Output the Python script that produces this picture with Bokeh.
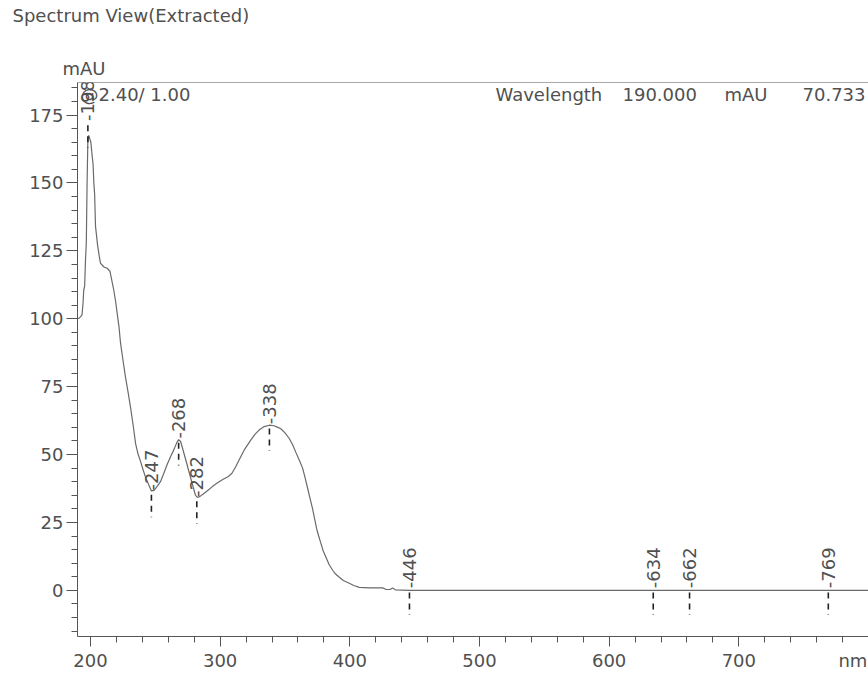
import numpy as np
from bokeh.plotting import figure
from bokeh.models import (Range1d, SingleIntervalTicker, FixedTicker, LinearAxis,
                          Label, Span, Title)
from bokeh.embed import file_html
from bokeh.resources import INLINE
from bokeh.core.properties import value

# ---- data ----
wavelength = [190, 191.5, 192.5, 193.5, 194.3, 194.8, 195.5, 196.2, 196.8, 197.4,
              198.0, 198.6, 199.3, 200.3, 201.3, 202.0, 202.6, 203.2, 203.9, 204.6,
              205.5, 206.8, 207.7, 209.0, 210.5, 212.9, 215.0, 216.5, 218.0, 219.5,
              220.6, 222.0, 223.2, 225.0, 227.0, 229.0, 230.9, 233.0, 234.8, 236.5,
              238.6, 240.5, 242.5, 245.0, 247.0, 249.0, 251.0, 254.0, 256.5, 259.3,
              262.0, 264.5, 266.5, 268.0, 269.5, 271.5, 273.5, 275.5, 277.5, 279.5,
              281.0, 282.5, 284.5, 287.0, 290.2, 294.0, 298.0, 302.0, 306.0, 309.0,
              312.0, 314.6, 318.5, 323.6, 327.0, 330.0, 334.0, 338.0, 341.5, 344.5,
              346.8, 350.0, 353.2, 356.0, 358.4, 361.0, 363.6, 365.5, 367.5, 369.5,
              371.3, 373.0, 374.5, 376.0, 377.7, 379.5, 381.6, 384.0, 386.8, 389.0,
              391.9, 395.0, 399.6, 403.0, 407.3, 415.0, 425.4, 428.0, 431.0, 433.0,
              435.0, 446.0, 500.0, 600.0, 700.0, 800.0]
absorbance = [100.0, 100.3, 100.8, 101.5, 106, 110.5, 112, 122, 128, 150,
              166, 167.5, 166.5, 165, 160, 157, 150, 146, 134, 131,
              127, 123, 120.5, 119.8, 119, 118.6, 117.5, 114, 110.5, 106,
              102, 97, 91, 85, 78.5, 73, 67.4, 60.5, 54, 50.5,
              47.5, 44.5, 41.6, 38.8, 36.6, 36.8, 38.0, 40.0, 43.0, 46.5,
              49.5, 52.0, 54.3, 55.5, 54.8, 51.5, 48.0, 44.5, 41.0, 37.5,
              35.0, 34.2, 34.6, 35.5, 36.7, 38.2, 39.6, 40.8, 41.8, 43.0,
              45.5, 48.0, 51.6, 55.3, 57.5, 59.0, 60.3, 60.8, 60.6, 60.0,
              59.5, 58.0, 56.0, 53.5, 50.8, 48.0, 45.0, 41.5, 37.5, 33.5,
              30.0, 26.0, 22.5, 20.0, 17.3, 14.5, 12.2, 9.5, 7.4, 6.0,
              4.8, 3.6, 2.6, 1.8, 1.1, 0.9, 0.9, 0.3, 0.3, 0.9,
              0.2, 0.0, 0.0, 0.0, 0.0, 0.0]

peak_wl = [198, 247, 268, 282, 338, 446, 634, 662, 769]
peak_mark = [172.5, 36.4, 55.5, 34.0, 60.8, 0.4, 0.4, 0.4, 0.4]
peak_text = ["-" + str(w) for w in peak_wl]

x_tick_values = [200, 300, 400, 500, 600, 700]
x_unit_pos = 788          # where the unit text sits in the tick-label row
title_text = "Spectrum View(Extracted)"
y_unit = "mAU"
x_unit = "nm"
cursor_text = "@2.40/ 1.00"
readout = ["Wavelength", "190.000", "mAU", "70.733"]

FONT = "DejaVu Sans"
TXT = "#505050"
AX = "#555555"

p = figure(width=868, height=677, output_backend="svg", toolbar_location=None,
           x_range=Range1d(190, 800), y_range=Range1d(-17, 187),
           x_axis_location=None,
           min_border_left=77, min_border_right=0, min_border_top=82,
           min_border_bottom=41)
p.outline_line_color = None
p.xgrid.visible = False
p.ygrid.visible = False
p.background_fill_color = "white"
p.border_fill_color = "white"

# main title (outermost), then unit label right above the frame
p.title.text = title_text
p.title.align = "left"
p.title.offset = -65
p.title.standoff = 2
p.title.text_font = FONT
p.title.text_font_size = "18px"
p.title.text_font_style = "normal"
p.title.text_color = TXT
p.add_layout(Title(text=y_unit, align="left", offset=-15, standoff=7,
                   text_font=FONT, text_font_size="18px", text_font_style="normal",
                   text_color=TXT), "above")
p.add_layout(Title(text=" ", align="left", standoff=3,
                   text_font=FONT, text_font_size="18px", text_color="white"), "above")

# x axis: tick marks only (its own labels are blanked)
xa = LinearAxis(ticker=SingleIntervalTicker(interval=100, num_minor_ticks=5),
                axis_line_color=AX, major_tick_line_color=AX, minor_tick_line_color=AX,
                major_tick_in=0, minor_tick_in=0, major_tick_out=10, minor_tick_out=6,
                major_label_text_font_size="1px", major_label_standoff=0,
                major_label_overrides={t: "" for t in range(200, 801, 100)})
p.add_layout(xa, "below")
# x axis: labels only (numbers + unit)
xl = LinearAxis(ticker=FixedTicker(ticks=x_tick_values + [x_unit_pos], minor_ticks=[]),
                axis_line_color=None, major_tick_line_color=None,
                minor_tick_line_color=None, major_tick_in=0, major_tick_out=0,
                major_label_standoff=3, major_label_text_font=FONT,
                major_label_text_font_size="18px", major_label_text_color=TXT,
                major_label_overrides={x_unit_pos: x_unit})
p.add_layout(xl, "below")

ya = p.yaxis[0]
ya.ticker = SingleIntervalTicker(interval=25, num_minor_ticks=5)
ya.axis_line_color = AX
ya.major_tick_line_color = AX
ya.minor_tick_line_color = AX
ya.major_tick_in = 0
ya.minor_tick_in = 0
ya.major_tick_out = 11
ya.minor_tick_out = 6
ya.major_label_standoff = 3
ya.major_label_text_font = FONT
ya.major_label_text_font_size = "18px"
ya.major_label_text_color = TXT

# top frame line
p.add_layout(Span(location=p.y_range.end, dimension="width", line_color=AX, line_width=1))

# spectrum
p.line(wavelength, absorbance, line_color="#6a6a6a", line_width=1.2)

# peak markers
mark_lo = [m - 1.2 for m in peak_mark]
mark_hi = [m - 9.5 for m in peak_mark]
p.segment(x0=peak_wl, y0=mark_lo, x1=peak_wl, y1=mark_hi, line_color="#222222",
          line_width=1.6, line_dash="6 5")
p.text(x=peak_wl, y=peak_mark, text=peak_text, angle=np.pi / 2, text_align="left",
       text_baseline="middle", text_font=value(FONT), text_font_size="18px",
       text_color=TXT, y_offset=-1)

def lab(text, x, y, xo, yo, align="left"):
    p.add_layout(Label(x=x, y=y, text=text, x_offset=xo, y_offset=yo,
                       text_font=FONT, text_font_size="18px", text_color=TXT,
                       text_align=align, text_baseline="middle"))

x0, x1 = p.x_range.start, p.x_range.end
y0, y1 = p.y_range.start, p.y_range.end
lab(cursor_text, x0, y1, 3, -12)
lab(readout[0], x0, y1, 418, -12)
lab(readout[1], x0, y1, 545, -12)
lab(readout[2], x0, y1, 647, -12)
lab(readout[3], x1, y1, -3, -12, align="right")

open("out.html", "w").write(file_html(p, INLINE))
